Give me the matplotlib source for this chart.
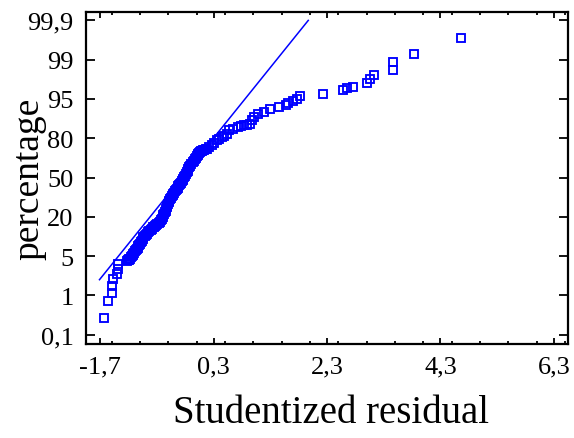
import numpy as np
import matplotlib
matplotlib.use("Agg")
import matplotlib.pyplot as plt
from matplotlib.ticker import FixedLocator, MultipleLocator

# normal probability plot of studentized residuals

# residuals (sorted) and their plotting percentage
resid = [-1.63, -1.554, -1.494, -1.494, -1.466, -1.406, -1.388, -1.388, -1.230, -1.215,
         -1.20, -1.185, -1.171, -1.156, -1.142, -1.127, -1.113, -1.098, -1.083, -1.068,
         -1.053, -1.038, -1.024, -1.01, -0.995, -0.98, -0.966, -0.951, -0.937, -0.915,
         -0.893, -0.871, -0.849, -0.83, -0.81, -0.79, -0.771, -0.75, -0.73, -0.71,
         -0.690, -0.67, -0.651, -0.632, -0.613, -0.598, -0.584, -0.57, -0.555, -0.545,
         -0.535, -0.524, -0.514, -0.502, -0.49, -0.478, -0.467, -0.452, -0.437, -0.422,
         -0.408, -0.393, -0.378, -0.363, -0.348, -0.333, -0.319, -0.304, -0.290, -0.275,
         -0.261, -0.246, -0.232, -0.217, -0.202, -0.187, -0.172, -0.157, -0.143, -0.128,
         -0.114, -0.092, -0.07, -0.048, -0.026, -0.011, 0.003, 0.018, 0.032, 0.047,
         0.062, 0.077, 0.092, 0.114, 0.136, 0.158, 0.180, 0.224, 0.268, 0.312,
         0.356, 0.40, 0.444, 0.49, 0.533, 0.577, 0.649, 0.737, 0.787, 0.837,
         0.89, 0.943, 0.973, 1.019, 1.089, 1.195, 1.296, 1.454, 1.578, 1.618,
         1.706, 1.766, 1.824, 2.224, 2.575, 2.657, 2.758, 3.005, 3.058, 3.133,
         3.463, 3.463, 3.833, 4.661]
pct = [0.48, 0.88, 1.22, 1.99, 2.68, 3.19, 3.70, 4.21, 4.54, 4.58,
       4.62, 4.66, 4.71, 4.95, 5.2, 5.5, 5.84, 6.3, 6.8, 7.3,
       7.75, 8.2, 8.7, 9.2, 9.66, 10.3, 10.9, 11.5, 12.2, 12.6,
       13.1, 13.6, 14.1, 14.5, 15.0, 15.5, 16.0, 16.3, 16.6, 16.9,
       17.3, 17.7, 18.2, 18.7, 19.2, 20.2, 21.3, 22.4, 23.5, 24.7,
       26.0, 27.3, 28.6, 29.8, 31.1, 32.4, 33.7, 34.6, 35.6, 36.5,
       37.5, 38.4, 39.4, 40.4, 41.4, 42.3, 43.3, 44.2, 45.2, 46.1,
       47.1, 48.0, 49.0, 50.2, 51.5, 52.8, 54.1, 55.3, 56.6, 57.9,
       59.2, 60.4, 61.7, 63.0, 64.3, 65.2, 66.2, 67.1, 68.1, 68.7,
       69.3, 70.0, 70.6, 70.9, 71.2, 71.5, 71.9, 73.2, 74.5, 76.4,
       78.3, 79.3, 80.4, 81.0, 81.7, 83.0, 83.6, 84.3, 84.6, 84.9,
       85.2, 85.5, 86.8, 88.1, 89.2, 90.0, 91.0, 91.9, 92.8, 93.5,
       94.4, 95.02, 95.28, 95.48, 95.87, 96.11, 96.27, 96.65, 97.06, 97.40,
       97.94, 98.79, 99.12, 99.50]

# reference line (two ends)
line_x = [-1.712, 1.970]
line_p = [2.60, 99.9]

pct_ticks = [0.1, 1, 5, 20, 50, 80, 95, 99, 99.9]
pct_labels = ['0,1', '1', '5', '20', '50', '80', '95', '99', '99,9']
x_ticks = [-1.7, 0.3, 2.3, 4.3, 6.3]
x_labels = ['-1,7', '0,3', '2,3', '4,3', '6,3']

# percentage axis: labels equally spaced, linear in between
p_anchor = np.array([-0.8] + pct_ticks + [100.8])
i_anchor = np.arange(-1, len(pct_ticks) + 1, dtype=float)


def fwd(p):
    return np.interp(p, p_anchor, i_anchor)


def inv(i):
    return np.interp(i, i_anchor, p_anchor)


plt.rcParams['font.family'] = ['Liberation Serif', 'DejaVu Serif']

fig = plt.figure(figsize=(5.74, 4.39), dpi=100)
ax = fig.add_axes([0.1498, 0.2141, 0.8397, 0.7563])
ax.set_yscale('function', functions=(fwd, inv))

ax.plot(line_x, line_p, color='#0000ff', lw=1.1)
ax.plot(resid, pct, ls='none', marker='s', ms=5.4, mfc='none',
        mec='#0000ff', mew=1.35)

ax.set_xlim(-1.95, 6.55)
ax.set_ylim(inv(-0.237), inv(8.214))

ax.yaxis.set_major_locator(FixedLocator(pct_ticks))
ax.set_yticklabels(pct_labels)
ax.yaxis.set_minor_locator(FixedLocator([]))
ax.set_xticks(x_ticks)
ax.set_xticklabels(x_labels)
ax.xaxis.set_minor_locator(MultipleLocator(0.5))

ax.tick_params(axis='y', which='major', direction='in', length=6.5, width=1.3,
               left=True, right=True, labelsize=19, pad=9)
ax.tick_params(axis='x', which='major', direction='in', length=4.5, width=1.3,
               top=True, bottom=True, labelsize=19, pad=8)
ax.tick_params(axis='x', which='minor', direction='in', length=2.5, width=1.3,
               top=True, bottom=True)
for s in ax.spines.values():
    s.set_linewidth(1.6)

ax.set_xlabel('Studentized residual', fontsize=28)
ax.xaxis.set_label_coords(0.508, -0.15)
ax.set_ylabel('percentage', fontsize=27)
ax.yaxis.set_label_coords(-0.083, 0.5)

fig.savefig('out.png', dpi=100)
